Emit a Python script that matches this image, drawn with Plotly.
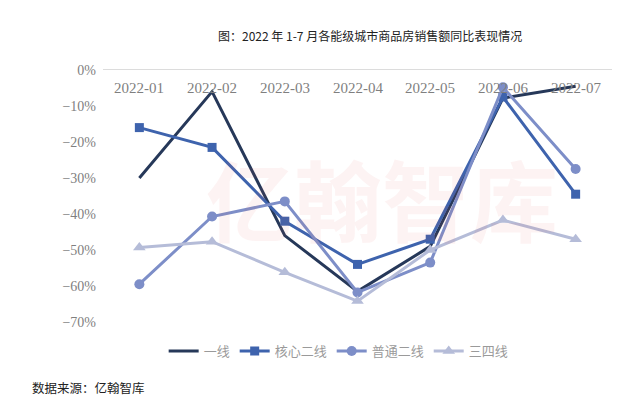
import plotly.graph_objects as go

months = ["2022-01", "2022-02", "2022-03", "2022-04", "2022-05", "2022-06", "2022-07"]
tier1 = [-30.0, -6.0, -46.0, -61.5, -49.0, -7.8, -4.5]
core_tier2 = [-16.0, -21.5, -42.0, -54.0, -47.0, -7.5, -34.5]
normal_tier2 = [-59.5, -40.7, -36.5, -61.8, -53.5, -4.8, -27.5]
tier34 = [-49.3, -47.7, -56.2, -64.2, -50.0, -41.7, -47.0]

y_ticks = [0, -10, -20, -30, -40, -50, -60, -70]
y_labels = ["0%", "−10%", "−20%", "−30%", "−40%", "−50%", "−60%", "−70%"]

fig = go.Figure()
fig.add_trace(go.Scatter(x=months, y=tier1, name="一线", mode="lines",
                         line=dict(color="#263859", width=3)))
fig.add_trace(go.Scatter(x=months, y=core_tier2, name="核心二线", mode="lines+markers",
                         line=dict(color="#3E63AD", width=3),
                         marker=dict(symbol="square", size=9, color="#3E63AD")))
fig.add_trace(go.Scatter(x=months, y=normal_tier2, name="普通二线", mode="lines+markers",
                         line=dict(color="#7D8EC8", width=3),
                         marker=dict(symbol="circle", size=10, color="#7D8EC8")))
fig.add_trace(go.Scatter(x=months, y=tier34, name="三四线", mode="lines+markers",
                         line=dict(color="#B5BCD8", width=3),
                         marker=dict(symbol="triangle-up", size=11, color="#B5BCD8")))

# watermark
fig.add_annotation(text="<b>亿翰智库</b>", xref="paper", yref="paper", x=0.548, y=0.50,
                   showarrow=False, font=dict(family="Noto Sans CJK SC", size=88,
                                              color="rgba(225,80,80,0.07)"))

# category labels sitting just under the 0% line
for m in months:
    fig.add_annotation(text=m, x=m, y=0, xref="x", yref="y", yshift=-18,
                       showarrow=False, yanchor="middle",
                       font=dict(family="Liberation Serif", size=15, color="#7f7f7f"))

fig.add_annotation(text="图：2022 年 1-7 月各能级城市商品房销售额同比表现情况",
                   xref="paper", yref="paper", x=0.525, y=1.0, yshift=35,
                   showarrow=False, xanchor="center", yanchor="middle",
                   font=dict(family="Noto Sans CJK SC", size=12, color="#222222"))
fig.add_annotation(text="数据来源：亿翰智库", xref="paper", yref="paper",
                   x=-0.1434, y=-0.258, xanchor="left", yanchor="middle", showarrow=False,
                   font=dict(family="Noto Sans CJK SC", size=12.5, color="#222222"))

# page body has an 8px default margin, so the figure is sized/offset to compensate
fig.update_layout(
    width=633, height=407,
    margin=dict(l=95, r=29, t=62, b=93),
    plot_bgcolor="white", paper_bgcolor="white",
    showlegend=True,
    legend=dict(orientation="h", x=0.463, xanchor="center", y=-0.115, yanchor="middle",
                font=dict(family="Noto Sans CJK SC", size=13, color="#9a9a9a"),
                itemwidth=30, tracegroupgap=0),
    xaxis=dict(type="category", side="top", showticklabels=False,
               showline=True, linecolor="#dcdcdc", linewidth=1, showgrid=False,
               ticks="", range=[-0.5, 6.5]),
    yaxis=dict(range=[-70, 0], tickvals=y_ticks, ticktext=y_labels, showgrid=False,
               zeroline=False, showline=False, ticks="", ticklabelstandoff=6,
               tickfont=dict(family="Liberation Serif", size=14, color="#7f7f7f")),
)

fig.write_html("out.html")
